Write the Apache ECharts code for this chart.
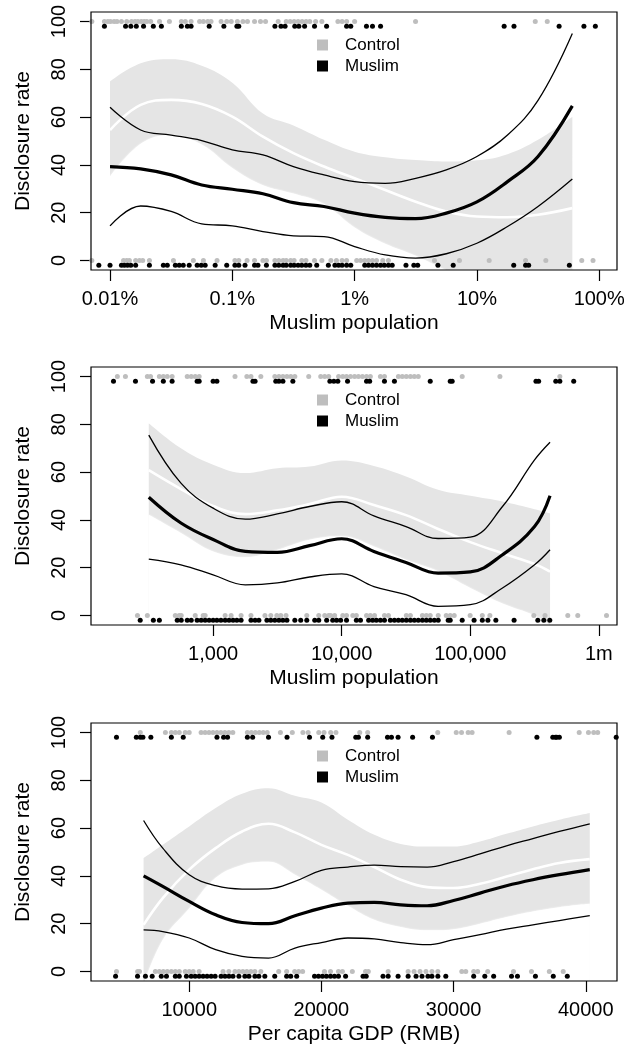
<!DOCTYPE html>
<html>
<head>
<meta charset="utf-8">
<script src="https://cdn.jsdelivr.net/npm/echarts@6/dist/echarts.min.js"></script>
<style>
  html, body { margin: 0; padding: 0; background: #fff; }
  #chart { width: 624px; height: 1049px; }
</style>
</head>
<body>
<div id="chart"></div>
<script>
// ---------- data ----------

// shared y axis
const yTicks = [0, 20, 40, 60, 80, 100];
const yRange = [-4, 104];
const CONTROL_Y = [100, 0];   // outcome rows for dots
const MUSLIM_Y = [98, -2];    // muslim dots sit slightly lower

// panel 1: Muslim population share (%), log scale
const xTicks1 = [0.01, 0.1, 1, 10, 100];
const xTickLabels1 = ['0.01%', '0.1%', '1%', '10%', '100%'];
const xRange1 = [0.00699, 139.8];
const fitX1 = [0.01, 0.0178, 0.0316, 0.0562, 0.1, 0.178, 0.316, 0.562, 1, 1.78, 3.16, 5.62, 10, 17.8, 31.6, 60.3];
const muslimFit1 = [39.3, 38.3, 35.8, 31.6, 29.8, 27.9, 24.2, 22.6, 19.8, 18.0, 17.5, 19.8, 24.5, 33.0, 43.5, 64.7];
const muslimHi1 = [64.1, 54.6, 52.5, 50.2, 46.3, 44.2, 39.3, 35.8, 33.0, 32.3, 34.4, 37.9, 43.5, 52.5, 67.0, 95.0];
const muslimLo1 = [14.5, 22.8, 20.5, 15.3, 14.5, 12.1, 10.3, 10.0, 5.8, 2.3, 1.0, 2.8, 7.2, 14.2, 22.6, 34.1];
const controlFit1 = [54.6, 65.1, 67.2, 65.5, 60.2, 51.8, 44.9, 39.3, 34.4, 29.5, 24.6, 20.5, 18.4, 18.1, 19.1, 21.9];
const controlHi1 = [74.9, 82.5, 84.2, 81.5, 74.4, 61.5, 56.5, 50.5, 45.5, 43.2, 42.0, 41.4, 41.9, 44.5, 50.5, 60.2];
const controlLo1 = [35.1, 48.8, 52.5, 48.5, 38.7, 31.5, 28.0, 23.6, 13.8, 7.0, 2.0, -4.0, -9.0, -13.0, -16.0, -20.0];
const controlTop1 = [0.0071, 0.009, 0.0096, 0.0101, 0.0108, 0.0114, 0.0124, 0.0137, 0.015, 0.016, 0.0169, 0.018, 0.019, 0.02, 0.0215, 0.0254, 0.0306, 0.0383, 0.0413, 0.046, 0.054, 0.058, 0.063, 0.067, 0.081, 0.09, 0.098, 0.11, 0.122, 0.133, 0.152, 0.17, 0.187, 0.237, 0.276, 0.297, 0.32, 0.345, 0.372, 0.401, 0.43, 0.48, 0.54, 0.73, 0.79, 0.86, 1.0, 3.15, 30, 37.6];
const muslimTop1 = [0.009, 0.0134, 0.0148, 0.0164, 0.0188, 0.0226, 0.0263, 0.0383, 0.0429, 0.046, 0.0647, 0.0853, 0.109, 0.113, 0.223, 0.25, 0.27, 0.324, 0.35, 0.39, 0.47, 0.59, 0.86, 0.93, 1.25, 1.4, 1.63, 16.7, 20.1, 47, 75, 93];
const controlBot1 = [0.0071, 0.0129, 0.0137, 0.0144, 0.0162, 0.0174, 0.0185, 0.021, 0.033, 0.048, 0.058, 0.075, 0.105, 0.113, 0.132, 0.152, 0.178, 0.19, 0.223, 0.24, 0.26, 0.276, 0.3, 0.32, 0.37, 0.4, 0.47, 0.54, 0.64, 0.71, 0.79, 0.86, 1.04, 1.12, 1.21, 1.3, 1.4, 1.51, 1.7, 1.89, 4.5, 7.2, 12.6, 25, 36.6, 72, 89];
const muslimBot1 = [0.0081, 0.01, 0.0124, 0.0131, 0.0139, 0.0148, 0.0162, 0.021, 0.0273, 0.0294, 0.0342, 0.0368, 0.0397, 0.0444, 0.0516, 0.0557, 0.06, 0.0724, 0.09, 0.105, 0.113, 0.127, 0.152, 0.162, 0.19, 0.223, 0.24, 0.26, 0.276, 0.3, 0.32, 0.345, 0.37, 0.4, 0.43, 0.49, 0.61, 0.69, 0.74, 0.79, 0.86, 0.93, 1.21, 1.3, 1.4, 1.51, 1.63, 1.75, 1.89, 2.03, 2.63, 3.05, 3.28, 4.8, 6.4, 20, 25, 26.5, 57];

// panel 2: Muslim population (count), log scale
const xTicks2 = [1000, 10000, 100000, 1000000];
const xTickLabels2 = ['1,000', '10,000', '100,000', '1m'];
const xRange2 = [112.3, 1383000];
const fitX2 = [316, 562, 1000, 1780, 3160, 5620, 10000, 17800, 31600, 56200, 100000, 178000, 316000, 417000];
const muslimFit2 = [49.5, 38.7, 31.8, 26.8, 26.4, 29.2, 32.1, 26.8, 22.2, 17.7, 18.2, 25.4, 37.2, 50.1];
const muslimHi2 = [75.5, 55.4, 44.9, 40.3, 42.5, 45.6, 47.6, 41.7, 37.2, 32.2, 32.8, 45.6, 65.1, 72.5];
const muslimLo2 = [23.6, 21.2, 17.0, 12.8, 13.6, 16.1, 17.4, 12.1, 8.7, 3.8, 4.5, 11.5, 21.2, 27.5];
const controlFit2 = [60.8, 52.9, 45.8, 42.4, 44.0, 46.6, 49.7, 46.2, 42.0, 36.2, 30.7, 26.0, 21.5, 18.3];
const controlHi2 = [80.5, 70.0, 63.1, 59.6, 61.6, 62.3, 64.9, 62.6, 58.2, 52.6, 50.1, 47.7, 44.5, 42.8];
const controlLo2 = [42.1, 34.5, 26.8, 24.4, 27.5, 31.7, 33.1, 28.9, 23.3, 18.5, 11.5, 5.0, 0.0, -4.0];
const controlTop2 = [180, 208, 308, 326, 382, 410, 440, 480, 629, 676, 726, 779, 1480, 1830, 1970, 2350, 3020, 3250, 3490, 3750, 4020, 4320, 5540, 6870, 7380, 7920, 9460, 10200, 10900, 11700, 12600, 13500, 14500, 15600, 16700, 20000, 21500, 27600, 29600, 31800, 34200, 36700, 39400, 86500, 170000, 497000];
const muslimTop2 = [168, 249, 338, 410, 480, 751, 779, 1000, 1070, 2040, 2120, 3070, 3250, 3490, 4170, 8090, 8690, 9330, 11100, 15600, 16500, 21500, 25700, 48800, 69800, 72300, 324000, 340000, 462000, 497000, 637000];
const controlBot2 = [258, 308, 508, 545, 565, 726, 837, 867, 1240, 1380, 1650, 1970, 2530, 2810, 3130, 3360, 3690, 5350, 6630, 7380, 7920, 8200, 8810, 10200, 10900, 12200, 13000, 15600, 16700, 18000, 21500, 23100, 31800, 34200, 42400, 45500, 48800, 56300, 65000, 69800, 75000, 99700, 124000, 142000, 312000, 381000, 573000, 685000, 1146000];
const muslimBot2 = [271, 343, 382, 526, 565, 629, 676, 751, 807, 867, 931, 1000, 1070, 1150, 1240, 1330, 1430, 1530, 1650, 1970, 2120, 2270, 2620, 2810, 3020, 3250, 3490, 3750, 4320, 4800, 5350, 6170, 6630, 7640, 8510, 9130, 9810, 10900, 13000, 14000, 16200, 17400, 18600, 20000, 21500, 23900, 25700, 27600, 29600, 31800, 34200, 36700, 39400, 42400, 45500, 48800, 52500, 56300, 67300, 69800, 86500, 107000, 124000, 137000, 158000, 219000, 335000, 373000, 415000];

// panel 3: per capita GDP (RMB), linear
const xTicks3 = [10000, 20000, 30000, 40000];
const xTickLabels3 = ['10000', '20000', '30000', '40000'];
const xRange3 = [2572, 42360];
const fitX3 = [6550, 8000, 10000, 12000, 14000, 16000, 18000, 20000, 22000, 24000, 26000, 28000, 30000, 32000, 34000, 36000, 38000, 40300];
const muslimFit3 = [40.0, 35.6, 29.3, 23.7, 20.5, 20.0, 23.3, 26.5, 28.6, 28.9, 27.9, 27.5, 29.7, 32.8, 35.9, 38.4, 40.5, 42.6];
const muslimHi3 = [63.2, 51.6, 40.5, 35.9, 34.5, 34.6, 37.7, 42.3, 43.7, 44.5, 43.9, 43.7, 46.0, 49.2, 52.6, 55.6, 58.6, 61.8];
const muslimLo3 = [17.4, 16.7, 14.0, 9.1, 6.3, 5.6, 9.8, 12.1, 14.0, 13.6, 12.1, 11.2, 13.3, 15.4, 17.7, 19.5, 21.3, 23.4];
const controlFit3 = [19.5, 30.7, 42.6, 51.6, 58.6, 61.8, 58.2, 53.0, 48.8, 43.7, 38.4, 35.3, 34.9, 36.7, 39.7, 42.8, 45.4, 47.0];
const controlHi3 = [47.4, 53.0, 60.7, 68.4, 74.4, 76.7, 73.5, 70.7, 63.5, 57.2, 53.4, 52.3, 52.3, 54.4, 57.6, 60.7, 63.5, 66.3];
const controlLo3 = [-5.5, 13.3, 26.4, 39.2, 44.6, 45.9, 40.5, 34.2, 27.5, 21.6, 18.6, 17.2, 17.7, 20.0, 22.8, 25.1, 26.9, 28.3];
const controlTop3 = [6300, 8200, 8650, 8950, 9250, 9700, 10000, 10900, 11200, 11500, 11800, 12100, 12400, 12700, 13000, 13300, 14400, 14700, 15000, 15300, 15600, 15900, 16900, 17800, 18600, 19000, 19800, 20200, 20700, 21100, 22900, 23500, 28800, 30200, 30600, 31100, 31400, 34200, 39500, 40200, 40600, 40900];
const muslimTop3 = [4500, 6000, 6300, 6500, 7100, 8650, 9550, 12100, 12600, 12900, 14400, 14800, 16000, 17400, 19100, 20100, 20800, 22600, 22800, 23500, 25000, 25300, 25800, 26900, 28400, 36300, 37500, 37700, 37800, 38000, 42300];
const controlBot3 = [4500, 6100, 6240, 7440, 7740, 8040, 8340, 8650, 8950, 9250, 9700, 10000, 10300, 10750, 12560, 13000, 13460, 13760, 14060, 14360, 14670, 14970, 15420, 16770, 17370, 17980, 18280, 18580, 20230, 20690, 21290, 21590, 22340, 23340, 23550, 25050, 26560, 27010, 27460, 27910, 28360, 28810, 30620, 30920, 31520, 31820, 32580, 34530, 35890, 37240, 38290];
const muslimBot3 = [4430, 6090, 6690, 7200, 7890, 8280, 8950, 9250, 9790, 10150, 10450, 10750, 11050, 11350, 11660, 11960, 12410, 12710, 13010, 13310, 13760, 14210, 14520, 14970, 15270, 15720, 16470, 17370, 17680, 18130, 19480, 19780, 20080, 20380, 20690, 20990, 21290, 21830, 23150, 23390, 24660, 25050, 25800, 26560, 27160, 27610, 28060, 28360, 28810, 29410, 31520, 32360, 33030, 34380, 34830, 36190, 37540, 38600];

// ---------- chart setup ----------
const FONT = '"Liberation Sans", Arial, Helvetica, sans-serif';
const GREY = '#bebebe';
const BAND = '#e5e5e5';
const SMOOTH = 0.4;
const log10 = v => Math.log10(v);
const ident = v => v;

const panels = [
  { top: 12, tx: log10, xTicks: xTicks1, xLabels: xTickLabels1, xRange: xRange1, xName: 'Muslim population',
    fitX: fitX1, mFit: muslimFit1, mHi: muslimHi1, mLo: muslimLo1, cFit: controlFit1, cHi: controlHi1, cLo: controlLo1,
    cTop: controlTop1, mTop: muslimTop1, cBot: controlBot1, mBot: muslimBot1 },
  { top: 367, tx: log10, xTicks: xTicks2, xLabels: xTickLabels2, xRange: xRange2, xName: 'Muslim population',
    fitX: fitX2, mFit: muslimFit2, mHi: muslimHi2, mLo: muslimLo2, cFit: controlFit2, cHi: controlHi2, cLo: controlLo2,
    cTop: controlTop2, mTop: muslimTop2, cBot: controlBot2, mBot: muslimBot2 },
  { top: 723, tx: ident, xTicks: xTicks3, xLabels: xTickLabels3, xRange: xRange3, xName: 'Per capita GDP (RMB)',
    fitX: fitX3, mFit: muslimFit3, mHi: muslimHi3, mLo: muslimLo3, cFit: controlFit3, cHi: controlHi3, cLo: controlLo3,
    cTop: controlTop3, mTop: muslimTop3, cBot: controlBot3, mBot: muslimBot3 }
];

const grids = [], xAxes = [], yAxes = [], legends = [], series = [];

panels.forEach((p, i) => {
  const tickPos = p.xTicks.map(p.tx);
  grids.push({
    left: 91, width: 526, top: p.top, height: 258,
    show: true, z: 10, backgroundColor: 'rgba(0,0,0,0)',
    borderColor: '#000', borderWidth: 1.2,
    containLabel: false, outerBoundsMode: 'none'
  });
  xAxes.push({
    type: 'value', gridIndex: i,
    min: p.tx(p.xRange[0]), max: p.tx(p.xRange[1]),
    axisLine: { show: false, onZero: false },
    splitLine: { show: false },
    axisTick: { show: true, length: 11, customValues: tickPos, lineStyle: { color: '#000', width: 1.2 } },
    axisLabel: {
      customValues: tickPos, margin: 19, color: '#000', fontFamily: FONT, fontSize: 20,
      formatter: v => p.xLabels[tickPos.findIndex(t => Math.abs(t - v) < 1e-6)]
    },
    name: p.xName, nameLocation: 'middle', nameGap: 43,
    nameTextStyle: { color: '#000', fontFamily: FONT, fontSize: 21 }
  });
  yAxes.push({
    type: 'value', gridIndex: i, min: yRange[0], max: yRange[1],
    axisLine: { show: false, onZero: false },
    splitLine: { show: false },
    axisTick: { show: true, length: 11, customValues: yTicks, lineStyle: { color: '#000', width: 1.2 } },
    axisLabel: { customValues: yTicks, rotate: 90, margin: 22, color: '#000', fontFamily: FONT, fontSize: 20 },
    name: 'Disclosure rate', nameLocation: 'middle', nameGap: 57, nameRotate: 90,
    nameTextStyle: { color: '#000', fontFamily: FONT, fontSize: 21 }
  });
  legends.push({
    orient: 'vertical', left: 317, top: p.top + 24.5, padding: 0, itemGap: 4,
    itemWidth: 11, itemHeight: 11, icon: 'rect', selectedMode: false,
    textStyle: { color: '#000', fontFamily: FONT, fontSize: 17, padding: [0, 0, 0, 12] },
    data: [
      { name: 'Control', itemStyle: { color: GREY, borderWidth: 0, opacity: 1 } },
      { name: 'Muslim', itemStyle: { color: '#000', borderWidth: 0, opacity: 1 } }
    ]
  });

  const xy = ys => p.fitX.map((x, k) => [p.tx(x), ys[k]]);
  const axisIdx = { xAxisIndex: i, yAxisIndex: i };
  const curve = (ys, extra) => Object.assign({
    type: 'line', ...axisIdx, data: xy(ys), smooth: SMOOTH, symbol: 'none', silent: true
  }, extra);

  // control confidence band: grey down from the upper edge, then white below the lower edge
  series.push(curve(p.cHi, {
    lineStyle: { width: 0, opacity: 0 }, areaStyle: { color: BAND, opacity: 1, origin: 'start' }, z: 1
  }));
  series.push(curve(p.cLo, {
    lineStyle: { width: 0, opacity: 0 },
    areaStyle: { color: '#fff', opacity: 1, origin: 'start', shadowColor: '#fff', shadowBlur: 2 }, z: 1
  }));
  // control fit (white)
  series.push(curve(p.cFit, { lineStyle: { color: '#fff', width: 2.6 }, z: 2 }));
  // muslim interval lines and fit
  series.push(curve(p.mHi, { lineStyle: { color: '#000', width: 1.3 }, z: 3 }));
  series.push(curve(p.mLo, { lineStyle: { color: '#000', width: 1.3 }, z: 3 }));
  series.push(curve(p.mFit, { lineStyle: { color: '#000', width: 3.2 }, z: 3 }));
  // observed outcomes
  series.push({
    name: 'Control', type: 'scatter', ...axisIdx, symbolSize: 5, z: 4, silent: true,
    itemStyle: { color: GREY, opacity: 1 },
    data: p.cTop.map(x => [p.tx(x), CONTROL_Y[0]]).concat(p.cBot.map(x => [p.tx(x), CONTROL_Y[1]]))
  });
  series.push({
    name: 'Muslim', type: 'scatter', ...axisIdx, symbolSize: 5, z: 4, silent: true,
    itemStyle: { color: '#000', opacity: 1 },
    data: p.mTop.map(x => [p.tx(x), MUSLIM_Y[0]]).concat(p.mBot.map(x => [p.tx(x), MUSLIM_Y[1]]))
  });
});

const chart = echarts.init(document.getElementById('chart'), null, { renderer: 'canvas' });
chart.setOption({
  animation: false,
  backgroundColor: '#fff',
  grid: grids,
  xAxis: xAxes,
  yAxis: yAxes,
  legend: legends,
  series
});
</script>
</body>
</html>
